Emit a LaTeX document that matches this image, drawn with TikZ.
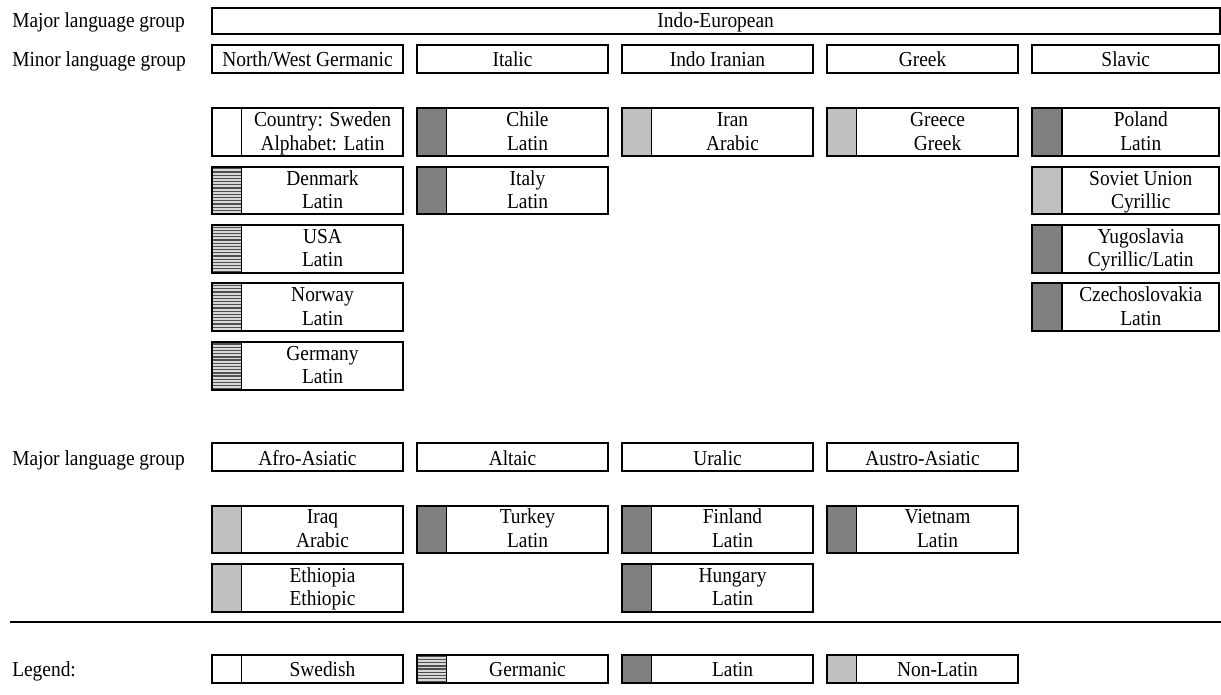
\documentclass[tikz,border=0pt]{standalone}
\usepackage{fontspec}
\setmainfont{Liberation Serif}[FakeStretch=0.91]
\definecolor{latin}{HTML}{808080}
\definecolor{nonlatin}{HTML}{C0C0C0}
\definecolor{germlight}{HTML}{D8D8D8}
\definecolor{germdark}{HTML}{505050}
\tikzset{
  txt/.style={font=\fontsize{16}{19}\selectfont, inner sep=0pt, anchor=base},
  lbl/.style={txt, anchor=base west},
  frame/.style={draw, line width=1.5pt, inner sep=0pt, outer sep=0pt, anchor=north west},
  swatch/.style={inner sep=0pt, outer sep=0pt, anchor=north west, minimum width=22.5pt},
  swede/.style={},
  latinsw/.style={fill=latin},
  nonsw/.style={fill=nonlatin},
  germsw/.style={path picture={
      \fill[germlight] (path picture bounding box.south west) rectangle (path picture bounding box.north east);
      \foreach \k in {0,...,16}{
        \draw[germdark, line width=1pt] ([yshift=\k*2.4pt+0.6pt]path picture bounding box.south west) -- ([yshift=\k*2.4pt+0.6pt]path picture bounding box.south east);}
  }},
  divider/.style={line width=1.1pt},
  sepline/.style={line width=2pt}
}
% group box: name, x, y, width, text
\newcommand\grpbox[5]{%
  \node[frame, minimum width=#4, minimum height=20.8pt] (#1) at (#2,#3) {};
  \node[txt] (#1t) at ([yshift=-16.3pt]#1.north) {#5};
}
% country box: name, x, y, width, swatch style, line1, line2
\newcommand\ctybox[7]{%
  \node[swatch, #5, minimum height=35.8pt] (#1s) at (#2,#3) {};
  \node[frame, minimum width=#4, minimum height=35.8pt] (#1) at (#2,#3) {};
  \draw[divider] (#1s.north east) -- (#1s.south east);
  \path (#1s.north east) -- (#1.north east) coordinate[pos=0.5] (#1m);
  \node[txt] (#1a) at ([yshift=-13.8pt]#1m) {#6};
  \node[txt] (#1b) at ([yshift=-31.3pt]#1m) {#7};
}
% legend box: name, x, y, swatch style, text
\newcommand\legbox[5]{%
  \node[swatch, #4, minimum height=20.8pt] (#1s) at (#2,#3) {};
  \node[frame, minimum width=143.7pt, minimum height=20.8pt] (#1) at (#2,#3) {};
  \draw[divider] (#1s.north east) -- (#1s.south east);
  \path (#1s.north east) -- (#1.north east) coordinate[pos=0.5] (#1m);
  \node[txt] (#1t) at ([yshift=-16.3pt]#1m) {#5};
}
\begin{document}
\begin{tikzpicture}[x=0.75pt,y=-0.75pt]
\useasboundingbox (0,0) rectangle (1221,695);
% row labels
\node[lbl] (lab1) at (12,28) {Major language group};
\node[lbl] (lab2) at (12,66.7) {Minor language group};
\node[lbl] (lab3) at (12,465) {Major language group};
\node[lbl] (lab4) at (12,676) {Legend:};
% major group
\node[frame, minimum width=755.9pt, minimum height=19.5pt] (ie) at (211.7,8) {};
\node[txt] (iet) at ([yshift=-15pt]ie.north) {Indo-European};
% minor groups
\grpbox{nwg}{211.7}{45}{143.7pt}{North/West Germanic}
\grpbox{ita}{416.7}{45}{143.7pt}{Italic}
\grpbox{ind}{621.7}{45}{143.7pt}{Indo Iranian}
\grpbox{gre}{826.7}{45}{143.7pt}{Greek}
\grpbox{sla}{1032}{45}{140.6pt}{Slavic}
% Germanic column
\ctybox{swe}{211.7}{108.3}{143.7pt}{swede}{Country: Sweden}{Alphabet: Latin}
\ctybox{den}{211.7}{166.7}{143.7pt}{germsw}{Denmark}{Latin}
\ctybox{usa}{211.7}{225.1}{143.7pt}{germsw}{USA}{Latin}
\ctybox{nor}{211.7}{283.5}{143.7pt}{germsw}{Norway}{Latin}
\ctybox{ger}{211.7}{342}{143.7pt}{germsw}{Germany}{Latin}
% Italic column
\ctybox{chi}{416.7}{108.3}{143.7pt}{latinsw}{Chile}{Latin}
\ctybox{ity}{416.7}{166.7}{143.7pt}{latinsw}{Italy}{Latin}
% Indo Iranian
\ctybox{ira}{621.7}{108.3}{143.7pt}{nonsw}{Iran}{Arabic}
% Greek
\ctybox{grc}{826.7}{108.3}{143.7pt}{nonsw}{Greece}{Greek}
% Slavic
\ctybox{pol}{1032}{108.3}{140.6pt}{latinsw}{Poland}{Latin}
\ctybox{sov}{1032}{166.7}{140.6pt}{nonsw}{Soviet Union}{Cyrillic}
\ctybox{yug}{1032}{225.1}{140.6pt}{latinsw}{Yugoslavia}{Cyrillic/Latin}
\ctybox{cze}{1032}{283.5}{140.6pt}{latinsw}{Czechoslovakia}{Latin}
% second major groups
\grpbox{afr}{211.7}{443.3}{143.7pt}{Afro-Asiatic}
\grpbox{alt}{416.7}{443.3}{143.7pt}{Altaic}
\grpbox{ura}{621.7}{443.3}{143.7pt}{Uralic}
\grpbox{aus}{826.7}{443.3}{143.7pt}{Austro-Asiatic}
\ctybox{irq}{211.7}{505.5}{143.7pt}{nonsw}{Iraq}{Arabic}
\ctybox{eth}{211.7}{564}{143.7pt}{nonsw}{Ethiopia}{Ethiopic}
\ctybox{tur}{416.7}{505.5}{143.7pt}{latinsw}{Turkey}{Latin}
\ctybox{fin}{621.7}{505.5}{143.7pt}{latinsw}{Finland}{Latin}
\ctybox{hun}{621.7}{564}{143.7pt}{latinsw}{Hungary}{Latin}
\ctybox{vie}{826.7}{505.5}{143.7pt}{latinsw}{Vietnam}{Latin}
% separator
\coordinate (sepL) at (10,622);
\coordinate (sepR) at (1221,622);
\draw[sepline] (sepL) -- (sepR);
% legend
\legbox{lsw}{211.7}{655}{swede}{Swedish}
\legbox{lge}{416.7}{655}{germsw}{Germanic}
\legbox{lla}{621.7}{655}{latinsw}{Latin}
\legbox{lno}{826.7}{655}{nonsw}{Non-Latin}
\end{tikzpicture}
\end{document}
